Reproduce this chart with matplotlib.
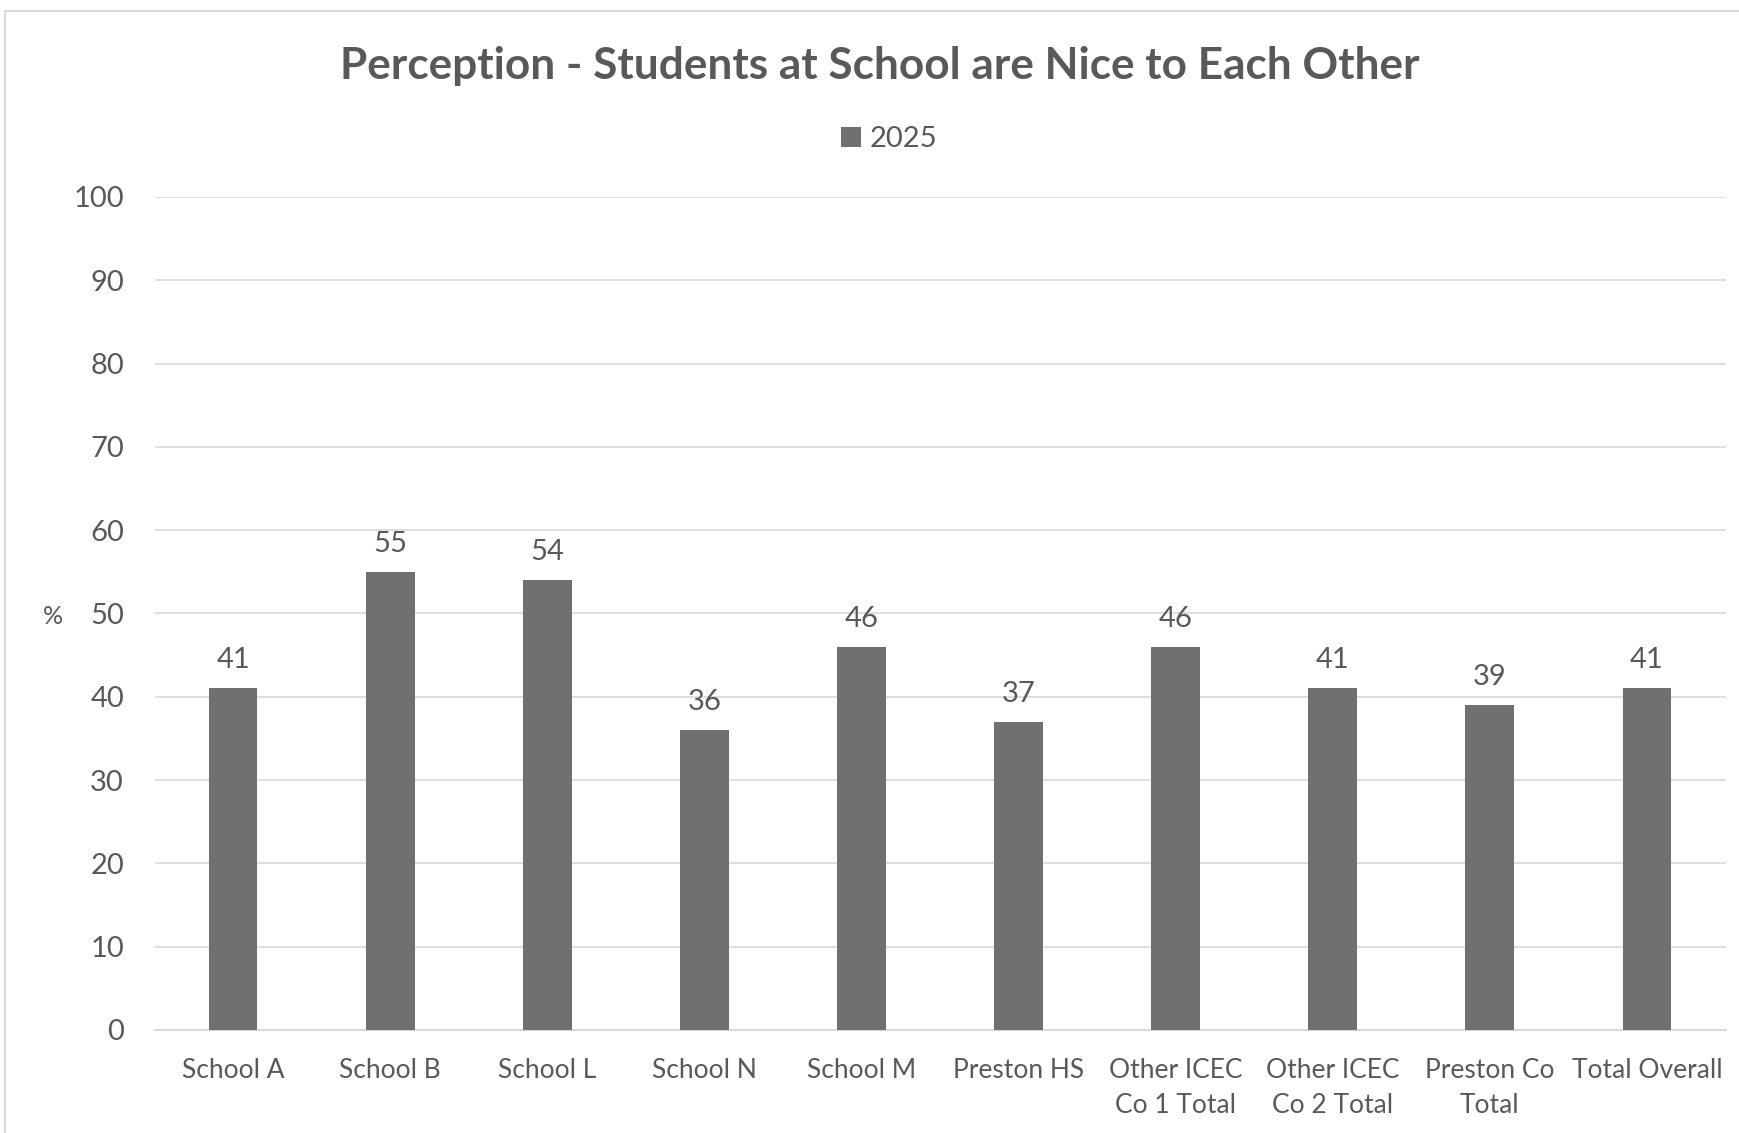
import matplotlib.pyplot as plt
from matplotlib.patches import Rectangle

plt.rcParams['font.family'] = ['Lato', 'DejaVu Sans']

categories = ['School A', 'School B', 'School L', 'School N', 'School M',
              'Preston HS', 'Other ICEC\nCo 1 Total', 'Other ICEC\nCo 2 Total',
              'Preston Co\nTotal', 'Total Overall']
values_2025 = [41, 55, 54, 36, 46, 37, 46, 41, 39, 41]
series_name = '2025'
y_ticks = [0, 10, 20, 30, 40, 50, 60, 70, 80, 90, 100]

TEXT = '#595959'
BAR = '#707070'
GRID = '#d9d9d9'

W, H = 1739, 1133
fig = plt.figure(figsize=(W / 100, H / 100), dpi=100)

# chart frame (runs off the right and bottom edges)
fig.patches.append(Rectangle((5 / W, -0.1), 1.2, 1 - 11 / H + 0.1,
                             transform=fig.transFigure, fill=False,
                             edgecolor=GRID, linewidth=1.5))

ax = fig.add_axes([154.5 / W, 1 - 1030 / H, 1571 / W, 833 / H])
x = range(len(categories))
bars = ax.bar(x, values_2025, width=0.31, color=BAR, label=series_name, zorder=3)

for b, v in zip(bars, values_2025):
    ax.annotate(str(v), (b.get_x() + b.get_width() / 2, v),
                xytext=(0, 11), textcoords='offset points',
                ha='center', va='bottom', fontsize=21, color=TEXT)

ax.set_xlim(-0.5, len(categories) - 0.5)
ax.set_ylim(0, 100)
ax.set_yticks(y_ticks)
ax.set_xticks(list(x))
ax.set_xticklabels(categories, linespacing=1.5)
ax.tick_params(axis='y', length=0, pad=22, labelsize=21, labelcolor=TEXT)
ax.tick_params(axis='x', length=0, pad=20, labelsize=19, labelcolor=TEXT)
ax.grid(axis='y', color=GRID, linewidth=1.2, zorder=0)
for s in ['top', 'right', 'left']:
    ax.spines[s].set_visible(False)
ax.spines['bottom'].set_color(GRID)
ax.spines['bottom'].set_linewidth(1.5)

fig.text(53 / W, 1 - 617 / H, '%', ha='center', va='center',
         fontsize=18, color=TEXT)
fig.text(880 / W, 1 - 66 / H, 'Perception - Students at School are Nice to Each Other',
         ha='center', va='center', fontsize=31.8, fontweight='bold', color=TEXT)

ax.legend(loc='center', bbox_to_anchor=(889 / W, 1 - 139 / H),
          bbox_transform=fig.transFigure, frameon=False, fontsize=21,
          labelcolor=TEXT, handlelength=0.7, handleheight=0.7,
          handletextpad=0.3)

fig.savefig('out.png', dpi=100)
